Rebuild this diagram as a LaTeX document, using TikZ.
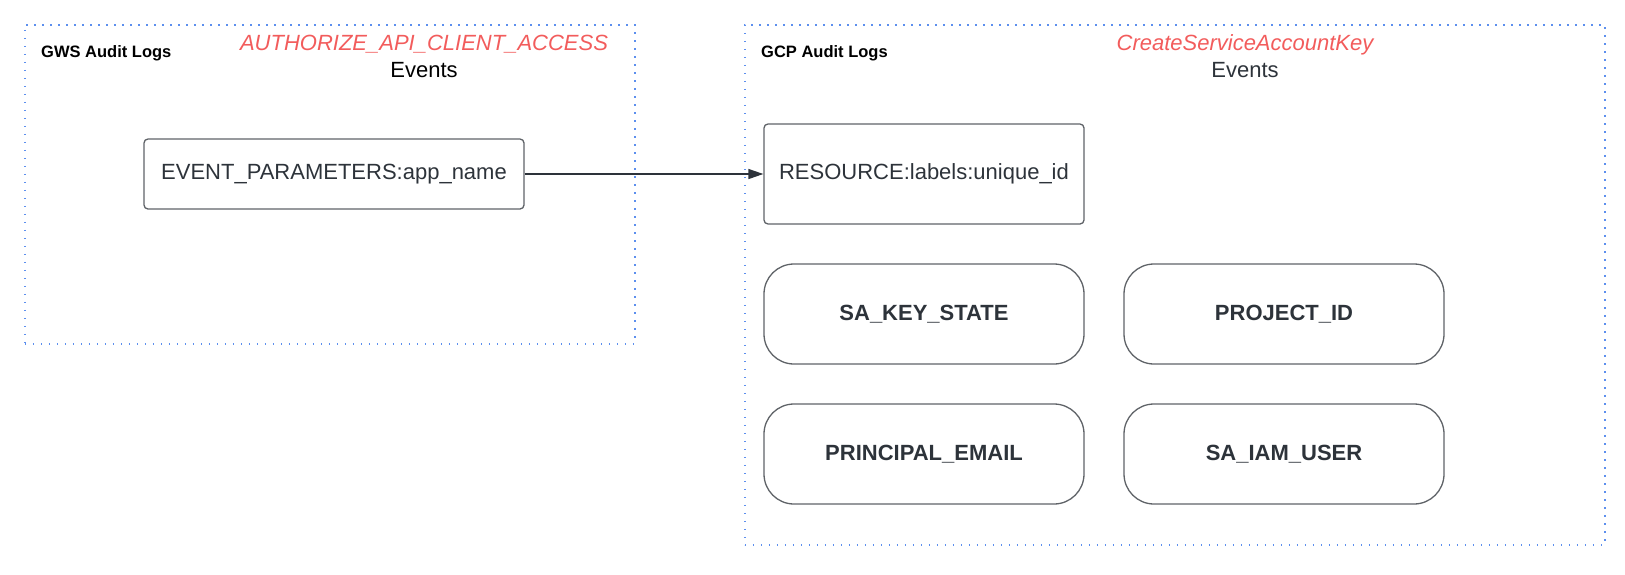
\documentclass[tikz,border=0pt]{standalone}
\usepackage{fontspec}
\setmainfont{Liberation Sans}
\usetikzlibrary{arrows.meta}
\definecolor{frameblue}{HTML}{5C8FEE}
\definecolor{eventred}{HTML}{F25C5C}
\definecolor{boxgray}{HTML}{5F6368}
\definecolor{textdark}{HTML}{2D333A}
\tikzset{
  logframe/.style={draw=frameblue,line width=1.6pt,dash pattern=on 1.6pt off 6.4pt,inner sep=0pt,anchor=north west},
  frametitle/.style={font=\fontsize{16.5}{19}\selectfont\bfseries,inner sep=0pt,anchor=base west},
  eventname/.style={text=eventred,font=\fontsize{22}{26}\selectfont\itshape,inner sep=0pt,anchor=base},
  eventword/.style={font=\fontsize{22}{26}\selectfont,inner sep=0pt,anchor=base},
  fieldbox/.style={draw=boxgray,line width=1.3pt,rounded corners=4pt,text=textdark,font=\fontsize{22}{26}\selectfont,inner sep=0pt},
  keybox/.style={draw=boxgray,line width=1.3pt,rounded corners=30pt,text=textdark,font=\fontsize{22}{26}\selectfont\bfseries,minimum width=320pt,minimum height=100pt,inner sep=0pt},
  flowarrow/.style={draw=textdark,line width=1.3pt,-{Triangle[length=15pt,width=10pt]}}
}
\begin{document}
\begin{tikzpicture}[x=1pt,y=-1pt]
\useasboundingbox (0,0) rectangle (1625,574);
% GWS side
\node[logframe,minimum width=610pt,minimum height=319pt] (gws) at (24,24) {};
\node[frametitle] (gwstitle) at (41,57) {GWS Audit Logs};
\node[eventname] (gwsevent) at (424,50) {AUTHORIZE\_API\_CLIENT\_ACCESS};
\node[eventword] (gwsword) at (424,77) {Events};
\node[fieldbox,minimum width=380pt,minimum height=70pt] (appname) at (334,174) {EVENT\_PARAMETERS:app\_name};
% GCP side
\node[logframe,minimum width=860pt,minimum height=520pt] (gcp) at (744,24) {};
\node[frametitle] (gcptitle) at (761,57) {GCP Audit Logs};
\node[eventname] (gcpevent) at (1245,50) {CreateServiceAccountKey};
\node[eventword,text=textdark] (gcpword) at (1245,77) {Events};
\node[fieldbox,minimum width=320pt,minimum height=100pt] (uniqueid) at (924,174) {RESOURCE:labels:unique\_id};
\node[keybox] (keystate) at (924,314) {SA\_KEY\_STATE};
\node[keybox] (projectid) at (1284,314) {PROJECT\_ID};
\node[keybox] (principal) at (924,454) {PRINCIPAL\_EMAIL};
\node[keybox] (iamuser) at (1284,454) {SA\_IAM\_USER};
\draw[flowarrow] (appname) -- (uniqueid);
\end{tikzpicture}
\end{document}
